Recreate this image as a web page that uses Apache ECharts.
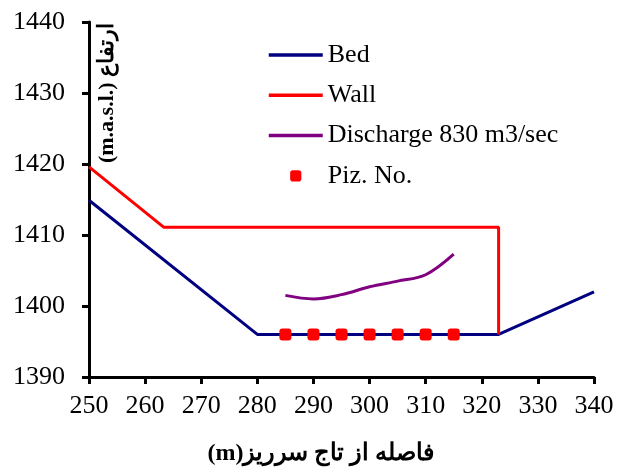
<!DOCTYPE html>
<html>
<head>
<meta charset="utf-8">
<script src="https://cdn.jsdelivr.net/npm/echarts@6/dist/echarts.min.js"></script>
<style>
  html, body { margin: 0; padding: 0; background: #fff; }
  #main { width: 621px; height: 469px; }
</style>
</head>
<body>
<div id="main"></div>
<script>
// data
var bedX = [250, 280, 323, 340];
var bedY = [1414.9, 1396, 1396, 1402];
var wallX = [250, 263.3, 323, 323];
var wallY = [1419.6, 1411.1, 1411.1, 1396];
var dischargeX = [285, 290, 295, 300, 305, 310, 315];
var dischargeY = [1401.5, 1401.0, 1401.6, 1402.7, 1403.5, 1404.4, 1407.3];
var pizX = [285, 290, 295, 300, 305, 310, 315];
var pizY = [1396, 1396, 1396, 1396, 1396, 1396, 1396];

var zip = function (xs, ys) {
    var res = [];
    for (var i = 0; i < xs.length; i++) {
        res.push([xs[i], ys[i]]);
    }
    return res;
};

var serif = '"Liberation Serif", "Times New Roman", serif';
var myChart = echarts.init(document.getElementById('main'));
// legend items for lines: hide the symbol dot, keep a thick line
var hideDot = { opacity: 0 };
var thick = { width: 3.5 };
var option = {
    backgroundColor: '#FFFFFF',
    animation: false,
    grid: { left: 89, right: 27, top: 22, bottom: 92 },
    legend: {
        orient: 'vertical',
        left: 262,
        top: 37,
        itemWidth: 54,
        itemHeight: 14,
        itemGap: 14.3,
        itemTextGap: 5,
        textStyle: { fontFamily: serif, fontSize: 26, color: '#000', lineHeight: 26 },
        data: [
            { name: 'Bed', itemStyle: hideDot, lineStyle: thick },
            { name: 'Wall', itemStyle: hideDot, lineStyle: thick },
            { name: 'Discharge 830 m3/sec', itemStyle: hideDot, lineStyle: thick },
            { name: 'Piz. No.' }
        ]
    },
    xAxis: {
        type: 'value',
        min: 250,
        max: 340,
        interval: 10,
        axisLine: { lineStyle: { color: '#000', width: 3 } },
        axisTick: { length: 7, lineStyle: { color: '#000', width: 3 } },
        axisLabel: { color: '#000', fontFamily: serif, fontSize: 26, margin: 16 },
        splitLine: { show: false }
    },
    yAxis: {
        type: 'value',
        min: 1390,
        max: 1440,
        interval: 10,
        axisLine: { show: true, lineStyle: { color: '#000', width: 3 } },
        axisTick: { show: true, length: 7, lineStyle: { color: '#000', width: 3 } },
        axisLabel: {
            color: '#000', fontFamily: serif, fontSize: 26, margin: 24,
            formatter: function (v) { return String(v); }
        },
        splitLine: { show: false }
    },
    graphic: [
        {
            type: 'text',
            x: 107,
            y: 93,
            rotation: Math.PI / 2,
            style: {
                text: '(m.a.s.l.) ارتفاع',
                font: 'bold 22px ' + serif,
                fill: '#000',
                align: 'center',
                verticalAlign: 'middle'
            }
        },
        {
            type: 'text',
            x: 321,
            y: 454,
            style: {
                text: '(m)فاصله از تاج سرریز',
                font: 'bold 24px ' + serif,
                fill: '#000',
                align: 'center',
                verticalAlign: 'middle'
            }
        }
    ],
    series: [
        {
            name: 'Bed',
            type: 'line',
            symbol: 'none',
            data: zip(bedX, bedY),
            lineStyle: { color: '#000080', width: 3 },
            itemStyle: { color: '#000080' }
        },
        {
            name: 'Wall',
            type: 'line',
            symbol: 'none',
            data: zip(wallX, wallY),
            lineStyle: { color: '#FF0000', width: 3 },
            itemStyle: { color: '#FF0000' }
        },
        {
            name: 'Discharge 830 m3/sec',
            type: 'line',
            symbol: 'none',
            smooth: 0.35,
            data: zip(dischargeX, dischargeY),
            lineStyle: { color: '#800080', width: 3 },
            itemStyle: { color: '#800080' }
        },
        {
            name: 'Piz. No.',
            type: 'line',
            symbol: 'roundRect',
            symbolSize: 12,
            showSymbol: true,
            data: zip(pizX, pizY),
            lineStyle: { width: 0, opacity: 0 },
            itemStyle: { color: '#FF0000' },
            z: 5
        }
    ]
};
myChart.setOption(option);
</script>
</body>
</html>
